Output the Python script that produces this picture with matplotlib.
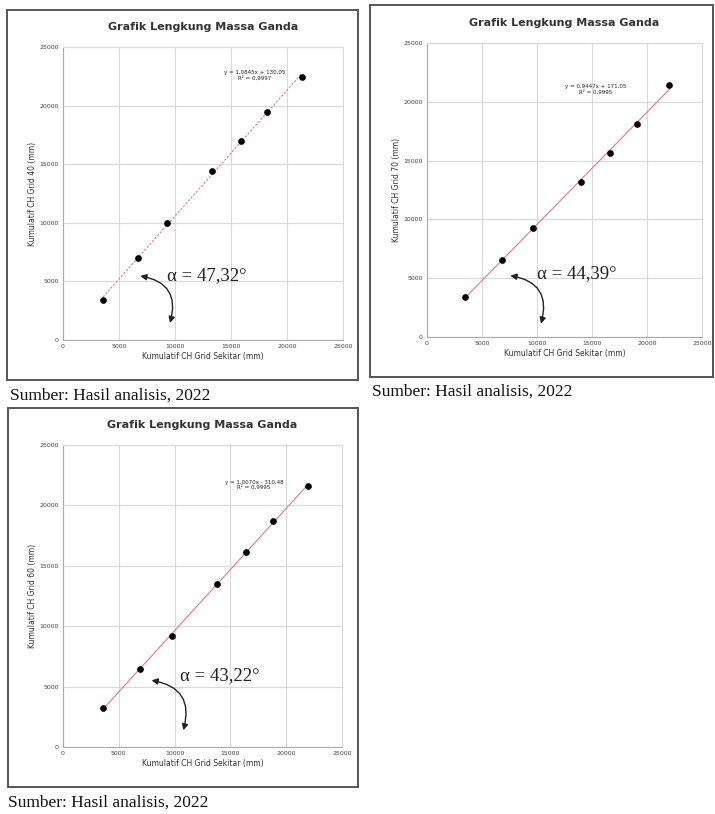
import numpy as np
import matplotlib.pyplot as plt
from matplotlib.patches import Rectangle, FancyArrowPatch
plt.switch_backend('agg')

W, H = 715, 814

# data (mm)
x_g40 = [3570, 6700, 9290, 13300, 15890, 18210, 21340]
y_g40 = [3410, 7000, 9980, 14420, 16980, 19450, 22440]
x_g70 = [3420, 6820, 9640, 14000, 16610, 19090, 22030]
y_g70 = [3400, 6580, 9270, 13150, 15680, 18140, 21400]
x_g60 = [3590, 6920, 9760, 13830, 16380, 18800, 21920]
y_g60 = [3260, 6460, 9170, 13510, 16160, 18670, 21600]

ylabels = ["Kumulatif CH Grid 40 (mm)", "Kumulatif CH Grid 70 (mm)",
           "Kumulatif CH Grid 60 (mm)"]
equations = ["y = 1,0845x + 130,05\nR² = 0,9997",
             "y = 0,9447x + 171,05\nR² = 0,9995",
             "y = 1,0070x - 310,48\nR² = 0,9995"]
alphas = ["α = 47,32°", "α = 44,39°", "α = 43,22°"]
ticks = [0, 5000, 10000, 15000, 20000, 25000]
title = "Grafik Lengkung Massa Ganda"
xlabel = "Kumulatif CH Grid Sekitar (mm)"
source = "Sumber: Hasil analisis, 2022"


def fx(px):
    return px / W


def fy(py):
    return 1 - py / H


fig = plt.figure(figsize=(W / 100, H / 100), dpi=100)

# panel layout in pixels: axes box, outer frame, caption, annotation spots
panels = [
    dict(ax=(63, 47, 343, 340), box=(7, 10, 358, 380), cap=(10, 396),
         x=x_g40, y=y_g40, ls=(0, (2, 1.5)), eq=(17100, 22600),
         txt=(9300, 5500), a1=(6900, 5460), a2=(9550, 1450)),
    dict(ax=(427, 43, 702, 337), box=(370, 5, 713, 377), cap=(372, 392),
         x=x_g70, y=y_g70, ls='-', eq=(15300, 21030),
         txt=(10000, 5390), a1=(7580, 5220), a2=(10360, 1130)),
    dict(ax=(63, 445, 342, 747), box=(8, 408, 358, 787), cap=(8, 803),
         x=x_g60, y=y_g60, ls='-', eq=(17100, 21700),
         txt=(10480, 5940), a1=(7930, 5520), a2=(10780, 1380)),
]

for i, p in enumerate(panels):
    l, t, r, b = p["box"]
    fig.patches.append(Rectangle((fx(l), fy(b)), fx(r - l), (b - t) / H,
                                 transform=fig.transFigure, fill=False,
                                 ec='#555555', lw=1.4))
    fig.text(fx(p["cap"][0]), fy(p["cap"][1]), source, family='Liberation Serif',
             fontsize=12.5, va='center', ha='left', color='#111111')

    l, t, r, b = p["ax"]
    ax = fig.add_axes([fx(l), fy(b), fx(r - l), (b - t) / H])
    ax.set_xlim(0, 25000)
    ax.set_ylim(0, 25000)
    ax.set_xticks(ticks)
    ax.set_yticks(ticks)
    ax.tick_params(labelsize=4.5, length=0, colors='#444444', pad=3)
    ax.grid(True, color='#d9d9d9', lw=0.8)
    ax.set_axisbelow(True)
    for s in ax.spines.values():
        s.set_color('#d9d9d9')
    ax.spines['left'].set_color('#aaaaaa')
    ax.spines['bottom'].set_color('#aaaaaa')
    ax.set_xlabel(xlabel, fontsize=5.5, color='#333333', labelpad=2)
    ax.set_ylabel(ylabels[i], fontsize=5.5, color='#333333', labelpad=2)
    ax.set_title(title, fontsize=8, fontweight='bold', color='#333333', pad=12)

    xs = np.array(p["x"])
    ys = np.array(p["y"])
    k, c = np.polyfit(xs, ys, 1)
    xl = np.array([xs.min(), xs.max()])
    ax.plot(xl, k * xl + c, color='#e07a8a', lw=0.8, ls=p["ls"], zorder=2)
    ax.plot(xs, ys, 'o', color='black', ms=3.8, zorder=3)

    ax.text(p["eq"][0], p["eq"][1], equations[i], fontsize=4, ha='center',
            va='center', color='#222222', linespacing=1.1)
    ax.text(p["txt"][0], p["txt"][1], alphas[i], family='Liberation Serif',
            fontsize=13.5, ha='left', va='center', color='#222222')
    arr = FancyArrowPatch(p["a1"], p["a2"], arrowstyle='<|-|>',
                          connectionstyle='arc3,rad=-0.55', mutation_scale=9,
                          lw=1.0, color='#222222', shrinkA=0, shrinkB=0)
    ax.add_patch(arr)

plt.savefig("out.png", dpi=100)
